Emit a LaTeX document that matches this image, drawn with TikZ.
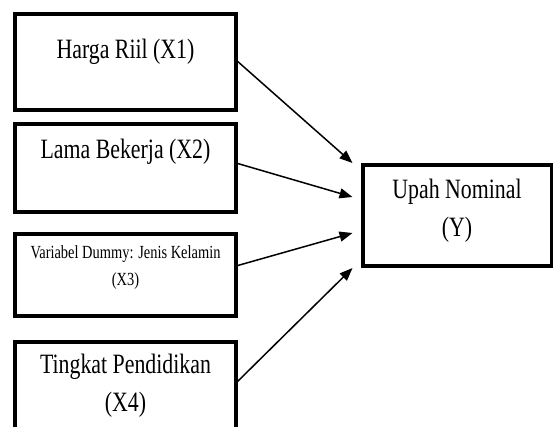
\documentclass[tikz,border=0pt]{standalone}
\usepackage{fontspec}
\setmainfont{Liberation Serif}
\newfontfamily\condserif[FakeStretch=0.78]{Liberation Serif}
\usetikzlibrary{arrows.meta,calc}
\begin{document}
\begin{tikzpicture}[x=1pt,y=-1pt,
  box/.style={draw=black,line width=4pt,rectangle,inner sep=0pt,outer sep=0pt,anchor=north west},
  lbl/.style={align=center,inner sep=0pt,font=\condserif\fontsize{28}{38}\selectfont},
  smalllbl/.style={align=center,inner sep=0pt,font=\condserif\fontsize{18.5}{27}\selectfont},
  conn/.style={line width=1.5pt,-{Triangle[length=13pt,width=10pt]}}]
\useasboundingbox (0,0) rectangle (553,426);
\clip (0,0) rectangle (553,426);
\node[box,minimum width=221pt,minimum height=96pt] (b1) at (15,14) {};
\node[box,minimum width=221pt,minimum height=88pt] (b2) at (15,124) {};
\node[box,minimum width=221pt,minimum height=82pt] (b3) at (15,234) {};
\node[box,minimum width=221pt,minimum height=110pt] (b4) at (15,342) {};
\node[box,minimum width=189pt,minimum height=101pt] (yb) at (363,165) {};
\node[lbl] (t1) at (125.5,52) {Harga Riil (X1)};
\node[lbl] (t2) at (125.5,152) {Lama Bekerja (X2)};
\node[smalllbl] (t3) at (125.5,268) {Variabel Dummy: Jenis Kelamin\\(X3)};
\node[lbl] (t4) at (125.5,386) {Tingkat Pendidikan\\(X4)};
\node[lbl] (ty) at (457,211) {Upah Nominal\\(Y)};
\draw[conn] ([yshift=-46pt]b1.north east) -- ([xshift=-10.5pt,yshift=2pt]yb.north west);
\draw[conn] ([yshift=-39pt]b2.north east) -- ([xshift=-10.5pt,yshift=-32pt]yb.north west);
\draw[conn] ([yshift=-32pt]b3.north east) -- ([xshift=-10.5pt,yshift=-68pt]yb.north west);
\draw[conn] ([yshift=-41pt]b4.north east) -- ([xshift=-10.5pt,yshift=-103pt]yb.north west);
\end{tikzpicture}
\end{document}
